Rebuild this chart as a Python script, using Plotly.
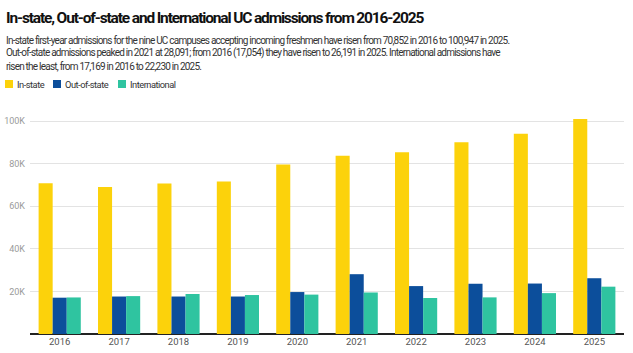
import plotly.graph_objects as go

years = ["2016", "2017", "2018", "2019", "2020", "2021", "2022", "2023", "2024", "2025"]
in_state = [70852, 69000, 70700, 71600, 79600, 83700, 85300, 90000, 94000, 100947]
out_of_state = [17054, 17600, 17600, 17600, 19700, 28091, 22500, 23600, 23700, 26191]
international = [17169, 17800, 18800, 18300, 18500, 19500, 16900, 17200, 19200, 22230]

series_names = ["In-state", "Out-of-state", "International"]
colors = ["#FCD20B", "#0C4E9B", "#2FC4A0"]

tick_vals = [20000, 40000, 60000, 80000, 100000]
tick_text = ["20K", "40K", "60K", "80K", "100K"]

title = "In-state, Out-of-state and International UC admissions from 2016-2025"
subtitle_lines = [
    "In-state first-year admissions for the nine UC campuses accepting incoming freshmen have risen from 70,852 in 2016 to 100,947 in 2025.",
    "Out-of-state admissions peaked in 2021 at 28,091; from 2016 (17,054) they have risen to 26,191 in 2025. International admissions have",
    "risen the least, from 17,169 in 2016 to 22,230 in 2025.",
]

W, H = 633, 353
ml, mr, mt, mb = 30, 9, 110, 19
pw = W - ml - mr
ph = H - mt - mb

def px_x(x):
    return (x - ml) / pw

def px_y(y):
    return 1 + (mt - y) / ph

def tight(s, ls):
    return '<span style="letter-spacing:%spx">%s</span>' % (ls, s)

fig = go.Figure()
for name, vals, col in zip(series_names, [in_state, out_of_state, international], colors):
    fig.add_trace(go.Bar(x=years, y=vals, name=name, marker=dict(color=col, line=dict(width=0)),
                         showlegend=False))

font = "Roboto, sans-serif"
annotations = [
    dict(text="<b>" + tight(title, -1.15) + "</b>", x=px_x(4), y=px_y(18), xref="paper", yref="paper",
         xanchor="left", yanchor="middle", showarrow=False,
         font=dict(family=font, size=15.5, color="#111111")),
]
for i, line in enumerate(subtitle_lines):
    annotations.append(dict(text=tight(line, -0.78), x=px_x(4), y=px_y(40 + 13 * i), xref="paper", yref="paper",
                            xanchor="left", yanchor="middle", align="left", showarrow=False,
                            font=dict(family=font, size=10, color="#333333")))
shapes = []
legend_x = [5, 53, 118]
for lx, name, col in zip(legend_x, series_names, colors):
    shapes.append(dict(type="rect", xref="paper", yref="paper",
                       x0=px_x(lx), x1=px_x(lx + 8), y0=px_y(80), y1=px_y(88),
                       fillcolor=col, line=dict(width=0)))
    annotations.append(dict(text=tight(name, -0.5), x=px_x(lx + 10), y=px_y(84), xref="paper", yref="paper",
                            xanchor="left", yanchor="middle", showarrow=False,
                            font=dict(family=font, size=9.3, color="#333333")))

fig.update_layout(
    width=W, height=H,
    margin=dict(l=ml, r=mr, t=mt, b=mb, autoexpand=False),
    paper_bgcolor="white", plot_bgcolor="white",
    barmode="group", bargap=0.29, bargroupgap=0,
    font=dict(family=font),
    annotations=annotations, shapes=shapes,
    xaxis=dict(showgrid=False, showline=False, ticks="", automargin=False,
               tickfont=dict(family=font, size=9.5, color="#555555")),
    yaxis=dict(range=[0, 105200], tickvals=tick_vals, ticktext=tick_text,
               showgrid=True, gridcolor="#E3E3E3", gridwidth=1,
               zeroline=True, zerolinecolor="#222222", zerolinewidth=2,
               showline=False, ticks="", ticklabelstandoff=4, automargin=False,
               tickfont=dict(family=font, size=9, color="#9A9A9A")),
)

fig.write_html("out.html")
